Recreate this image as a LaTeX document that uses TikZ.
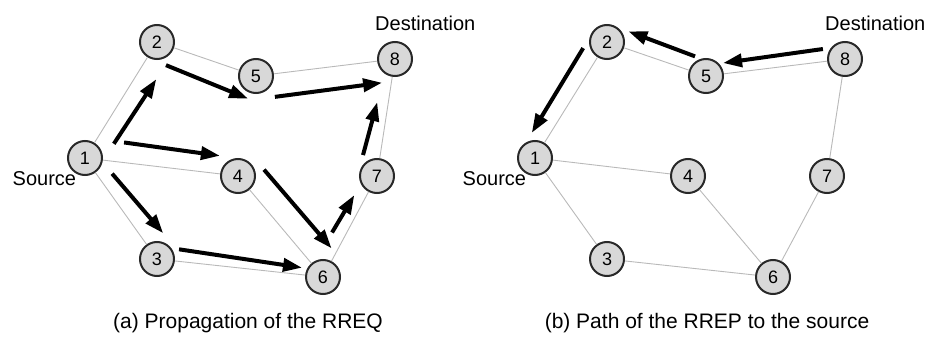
\documentclass[tikz,border=0pt]{standalone}
\usepackage{fontspec}
\setmainfont{Liberation Sans}
\usepackage{xcolor}
\definecolor{nodefill}{RGB}{216,216,216}
\definecolor{nodeedge}{RGB}{40,40,40}
\definecolor{linkgray}{RGB}{185,185,185}
\usepackage{tikz}
\usetikzlibrary{calc}
\usetikzlibrary{arrows.meta}
\newcommand{\hop}[6]{\draw[msg] ($(#1)!#3!(#2) + (#1)!#4!90:(#2) - (#1)$) -- ($(#1)!#5!(#2) + (#1)!#6!90:(#2) - (#1)$);}
\tikzset{
    station/.style={draw=nodeedge, fill=nodefill, circle, minimum size=34pt, inner sep=0pt, line width=2pt, font=\fontsize{18}{20}\selectfont},
    link/.style={draw=linkgray, line width=0.9pt},
    msg/.style={-{Triangle[length=19pt, width=13pt]}, line width=4pt},
    tag/.style={inner sep=0pt, font=\fontsize{20}{24}\selectfont},
    caption/.style={inner sep=0pt, font=\fontsize{21}{24}\selectfont}
}

\begin{document}
\begin{tikzpicture}[x=1pt, y=1pt]
    \useasboundingbox (0,0) rectangle (929,338);
    \foreach \p/\dx in {a/0, b/450} {
        \foreach \n/\x/\y in {1/85/180, 2/157/296, 3/157/79, 4/238/162, 5/256/262, 6/323/61, 7/377/162, 8/395/279}
            \node[station] (\p\n) at (\x+\dx,\y) {\n};
        \foreach \s/\t in {1/2, 2/5, 5/8, 1/4, 1/3, 4/6, 3/6, 6/7, 7/8}
            \draw[link] (\p\s) -- (\p\t);
        \node[tag, anchor=north east] (src\p) at ($(\p1.south west)+(4,-1)$) {Source};
        \node[tag, anchor=south west] (dst\p) at ($(\p8.north)+(-20,10)$) {Destination};
    }

    \hop{a1}{a2}{0.2}{-17pt}{0.766}{-19pt}
    \hop{a2}{a5}{0.153}{-19pt}{0.999}{-24pt}
    \hop{a5}{a8}{0.116}{-23pt}{0.888}{-22pt}
    \hop{a1}{a4}{0.24}{20pt}{0.868}{18pt}
    \hop{a1}{a3}{0.23}{13pt}{0.86}{20pt}
    \hop{a4}{a6}{0.09}{24pt}{0.876}{25pt}
    \hop{a3}{a6}{0.125}{12pt}{0.869}{7pt}
    \hop{a6}{a7}{0.38}{13pt}{0.76}{11pt}
    \hop{a7}{a8}{0.157}{17pt}{0.617}{11pt}

    \hop{b8}{b5}{0.148}{-12.6pt}{0.868}{-10.8pt}
    \hop{b5}{b2}{0.16}{-15pt}{0.84}{-17pt}
    \hop{b2}{b1}{0.13}{-17pt}{0.856}{-16pt}

    \node[caption] (capa) at (248,15) {(a) Propagation of the RREQ};
    \node[caption] (capb) at (707,15) {(b) Path of the RREP to the source};
\end{tikzpicture}
\end{document}
